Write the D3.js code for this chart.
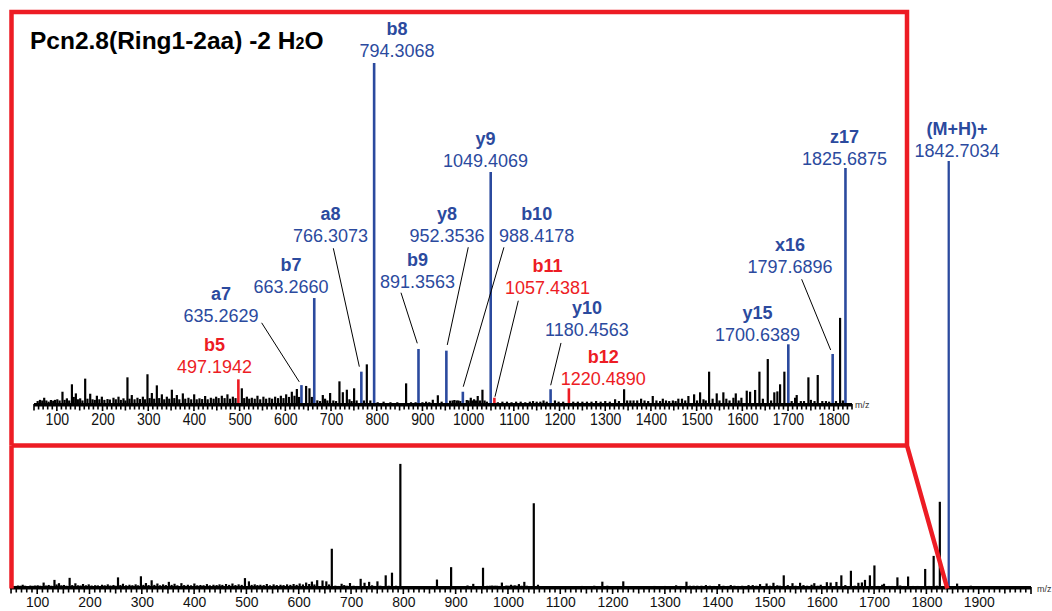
<!DOCTYPE html>
<html><head><meta charset="utf-8">
<script src="https://cdn.jsdelivr.net/npm/d3@7"></script>
<style>
body{margin:0;background:#fff}
svg{display:block}
text{font-family:"Liberation Sans",Arial,Helvetica,sans-serif}
</style>
</head><body>
<svg id="c" width="1052" height="611"></svg>
<script>
// ---------------- DATA ----------------
const titleMain = "Pcn2.8(Ring1-2aa) -2 H";
const titleSub = "2";
const titleEnd = "O";

// annotated fragment ions (relative intensity, % of (M+H)+)
const annotNames = ["b5","a7","b7","a8","b8","b9","y8","b10","y9","b11","y10","b12","y15","x16","z17"];
const annotMz    = [497.1942,635.2629,663.2660,766.3073,794.3068,891.3563,952.3536,988.4178,1049.4069,1057.4381,1180.4563,1220.4890,1700.6389,1797.6896,1825.6875];
const annotInt   = [2.09,1.6,8.98,2.74,28.9,4.66,4.52,1.04,19.66,0.53,1.25,1.33,5.06,4.24,20.0];
const annotType  = ["red","blue","blue","blue","blue","blue","blue","blue","blue","red","blue","red","blue","blue","blue"];

const precursorName = "(M+H)+";
const precursorMz = 1842.7034;
const precursorInt = 100;

// unannotated peaks
const noiseMz = [58,63,68,72.3,77,82,87,92,96,101,106,112.3,117,122,127,133,137,141.6,146,151,156,162,167,173,178,183,187.6,193,198.5,204,210.8,216,223.9,229,234.9,240,245.8,250,254.5,259,264,270,276.4,282,288.2,293,298.3,303,307.9,313,318.8,324,329.8,335,340.7,346,351.7,357,362.6,368,375.7,381,388,394,400.5,406,412.1,418,424.5,430,437,443,448.6,454,461,467,473.3,479,485.1,491,504.8,510,515.8,521,526.7,533,539,545,552,558,565.2,571,577.7,584,590.2,596,601.8,608,614.2,620,625.2,630,645.5,652.8,658,670,676,682,687,692,698,705,711,718.4,725.8,734.6,740.3,745,750.5,756,772,778.3,786,802,815,830,845,864.3,875,885,900,908,915,922.7,933.7,942,960.6,966,970,975,978.7,983,997,1001,1005.8,1009,1013,1017,1021,1026,1031.3,1036,1041,1065,1075,1085,1095,1105,1115,1125,1135,1142,1150,1158,1165,1172,1190,1198,1208,1230,1240,1250,1260,1270,1280,1290,1300,1310,1321.6,1330,1341.3,1348,1355,1362,1370,1378.5,1386,1394,1404,1412,1420,1426,1433,1440,1448,1454,1460,1468,1475,1482,1494.5,1501,1507.6,1515,1520,1527.3,1535,1544,1550,1558.5,1565,1572,1580.5,1585.7,1592,1598,1609.7,1617,1628,1637.4,1645,1655.7,1663,1670,1676.7,1682.6,1692,1708,1715.5,1719,1728,1735,1744.6,1750,1758,1765,1775,1783,1790,1805,1813.9,1820,1858.7,1885];
const noiseInt = [0.25,0.35,0.3,0.53,0.3,0.2,0.34,0.28,0.35,0.4,0.3,1.04,0.35,0.48,0.3,1.67,0.6,0.9,0.4,0.48,0.3,2.15,0.45,0.87,0.4,0.35,0.7,0.4,0.62,0.35,0.42,0.38,0.53,0.4,0.62,0.35,0.48,0.3,2.26,0.45,0.76,0.4,0.53,0.42,0.62,0.4,2.52,0.5,0.93,0.45,1.58,0.5,0.82,0.4,0.62,0.45,1.21,0.5,0.76,0.4,0.9,0.45,0.53,0.4,0.82,0.4,0.48,0.42,0.68,0.4,0.53,0.45,0.62,0.5,0.7,0.5,0.82,0.45,0.62,0.5,1.33,0.5,0.62,0.45,0.53,0.45,0.7,0.4,0.62,0.45,0.53,0.45,0.62,0.5,0.7,0.5,0.82,0.6,1.04,0.7,1.27,0.6,1.53,1.33,0.6,0.31,0.25,0.76,0.45,0.3,0.93,0.3,0.25,1.92,1.0,1.21,0.4,0.25,1.33,0.3,0.3,3.36,0.3,0.15,0.2,0.15,0.15,1.75,0.15,0.15,0.15,0.2,0.15,0.36,0.74,0.2,0.28,0.3,0.34,0.3,0.3,0.25,0.34,0.3,0.53,0.3,0.4,0.3,0.68,0.3,1.21,0.3,0.2,0.15,0.2,0.2,0.15,0.2,0.2,0.15,0.2,0.25,0.2,0.2,0.3,0.2,0.3,0.2,0.2,0.2,0.2,0.2,0.2,0.2,0.25,0.2,0.25,0.2,0.4,0.25,1.25,0.3,0.3,0.3,0.3,0.45,0.3,0.25,0.68,0.3,0.25,0.45,0.3,0.25,0.3,0.25,0.45,0.45,0.3,0.68,0.82,0.3,0.99,0.4,0.3,2.74,0.45,0.9,0.3,0.99,0.45,0.3,0.53,0.9,0.3,0.53,1.13,1.04,1.19,2.74,0.45,3.81,0.3,0.99,1.07,1.67,2.74,0.25,0.53,0.76,0.25,0.25,2.26,0.35,0.25,2.46,0.25,0.25,0.2,0.25,7.3,0.3,0.8,0.3];

const topTickLabels = d3.range(100, 1801, 100);
const bottomTickLabels = d3.range(100, 1901, 100);

// ---------------- LAYOUT (label offsets relative to bar tip, px) ----------------
const labelLayout = {
  "b5":  {dx:-23.9, dy:-6.3},
  "a7":  {dx:-80.5, dy:-63.3, l:[-39.8,-62.3,-2.2,-3.3]},
  "b7":  {dx:-23.3, dy:-5},
  "a8":  {dx:-30.8, dy:-129.7, l:[-28,-123.4,-2,-5]},
  "b8":  {dx:22.9, dy:-6},
  "b9":  {dx:-1, dy:-61, l:[-17.5,-56.3,-1.2,-5.7]},
  "y8":  {dx:0.6, dy:-108.7, l:[21.9,-103.4,0.9,-5.7]},
  "b10": {dx:73.8, dy:-149.7, l:[41.1,-144.4,0.4,-5]},
  "y9":  {dx:-5.2, dy:-5},
  "b11": {dx:53.1, dy:-103.7, l:[23.9,-97,0.6,-1]},
  "y10": {dx:36.4, dy:-53, l:[10.4,-46.3,0.1,-4]},
  "b12": {dx:34.4, dy:-3.3},
  "y15": {dx:-30.8, dy:-3.3},
  "x16": {dx:-42.7, dy:-81, l:[-31,-74.7,-2,-4]},
  "z17": {dx:-1, dy:-3},
  "(M+H)+": {dx:8.2, dy:-4.5}
};

// ---------------- DRAW ----------------
const svg = d3.select("#c");
const BLUE = "#2b4a9e", RED = "#ed1c24", BLACK = "#000";
const colorOf = t => t === "red" ? RED : BLUE;

const xTop = d3.scaleLinear().domain([50, 1840]).range([34, 852]);
const yTop = d3.scaleLinear().domain([0, 33]).range([404, 14.6]);
const xBot = d3.scaleLinear().domain([48, 2000]).range([10, 1031]);
const yBot = d3.scaleLinear().domain([0, 100]).range([587, 161]);

const noise = noiseMz.map((m, i) => ({mz: m, int: noiseInt[i]}));
const annots = annotNames.map((n, i) => ({name: n, mz: annotMz[i], int: annotInt[i], type: annotType[i]}));

function drawAxis(x, y0, labels, labelY, sx, fs) {
  const g = svg.append("g");
  const [d0, d1] = x.domain();
  const minor = d3.range(Math.ceil(d0 / 10) * 10, d1 + 0.1, 10);
  g.selectAll("line.tk").data(minor).join("line").attr("class", "tk")
    .attr("x1", d => x(d)).attr("x2", d => x(d))
    .attr("y1", y0).attr("y2", d => y0 + (d % 100 === 0 ? 7 : (d % 50 === 0 ? 6.5 : 5.5)))
    .attr("stroke", BLACK).attr("stroke-width", 1.6);
  g.append("line").attr("x1", x(d0)).attr("x2", x(d1))
    .attr("y1", y0 + 0.7).attr("y2", y0 + 0.7)
    .attr("stroke", BLACK).attr("stroke-width", 3.4);
  const ag = g.append("g").attr("transform", `translate(0,${labelY})`)
    .call(d3.axisBottom(x).tickValues(labels).tickSize(0).tickFormat(d3.format("d")));
  ag.attr("font-size", null).attr("font-family", null);
  ag.select(".domain").remove();
  ag.selectAll("text").attr("y", 0).attr("dy", 0)
    .attr("font-size", fs).attr("fill", "#111")
    .attr("transform", `scale(${sx},1)`);
  return g;
}

function drawPeaks(g, data, x, y, color, w) {
  g.selectAll(null).data(data).join("line")
    .attr("x1", d => x(d.mz)).attr("x2", d => x(d.mz))
    .attr("y1", y(0)).attr("y2", d => y(d.int))
    .attr("stroke", typeof color === "function" ? color : () => color)
    .attr("stroke-width", w);
}

// ---- bottom (full) spectrum ----
const gb = svg.append("g");
drawPeaks(gb, noise, xBot, yBot, BLACK, 2.2);
drawPeaks(gb, annots, xBot, yBot, BLACK, 2.2);
drawAxis(xBot, 587, bottomTickLabels, 607, 0.9, 15.5);
drawPeaks(gb, [{mz: precursorMz, int: precursorInt}], xBot, yBot, BLUE, 2.3);
svg.append("text").attr("x", 1037).attr("y", 592).attr("font-size", 9).attr("fill", "#333").text("m/z");

// ---- top (zoomed) spectrum ----
const gt = svg.append("g");
const [t0, t1] = xTop.domain();
drawPeaks(gt, noise.filter(d => d.mz >= t0 && d.mz <= t1), xTop, yTop, BLACK, 2.2);
drawAxis(xTop, 404, topTickLabels, 425, 0.88, 16);
drawPeaks(gt, annots, xTop, yTop, d => colorOf(d.type), 2.6);
svg.append("text").attr("x", 855).attr("y", 408).attr("font-size", 9).attr("fill", "#333").text("m/z");

// leaders + labels
function label(name, valueText, bx, by, color) {
  const L = labelLayout[name];
  const cx = bx + L.dx, vy = by + L.dy;
  if (L.l) {
    svg.append("line").attr("x1", bx + L.l[0]).attr("y1", by + L.l[1])
      .attr("x2", bx + L.l[2]).attr("y2", by + L.l[3])
      .attr("stroke", BLACK).attr("stroke-width", 1);
  }
  svg.append("text").attr("x", cx).attr("y", vy - 22).attr("text-anchor", "middle")
    .attr("font-size", 18).attr("font-weight", "bold").attr("fill", color).text(name);
  svg.append("text").attr("x", cx).attr("y", vy).attr("text-anchor", "middle")
    .attr("font-size", 18).attr("fill", color).text(valueText);
}
annots.forEach(d => label(d.name, d.mz.toFixed(4), xTop(d.mz), yTop(d.int), colorOf(d.type)));
label(precursorName, precursorMz.toFixed(4), xBot(precursorMz), yBot(precursorInt), BLUE);

// title
const tt = svg.append("text").attr("x", 30).attr("y", 49).attr("font-size", 24.5).attr("font-weight", "bold").attr("fill", "#000");
tt.append("tspan").text(titleMain);
tt.append("tspan").attr("font-size", 16).text(titleSub);
tt.append("tspan").text(titleEnd);

// red zoom frame + connectors
const fr = svg.append("g").attr("fill", "none").attr("stroke", RED).attr("stroke-width", 4.5);
const frL = 11.5, frT = 12, frR = 907, frB = 445.5;
fr.append("path").attr("stroke-linejoin", "miter")
  .attr("d", `M${frL},${frB} L${frL},${frT} L${frR},${frT} L${frR},${frB} L${xBot(t1)},${yBot(0) + 1.5}`);
fr.append("line").attr("x1", frL).attr("x2", frR).attr("y1", frB).attr("y2", frB);
fr.append("line").attr("x1", frL).attr("x2", frL).attr("y1", frB).attr("y2", yBot(0) + 1.5);
</script>
</body></html>
